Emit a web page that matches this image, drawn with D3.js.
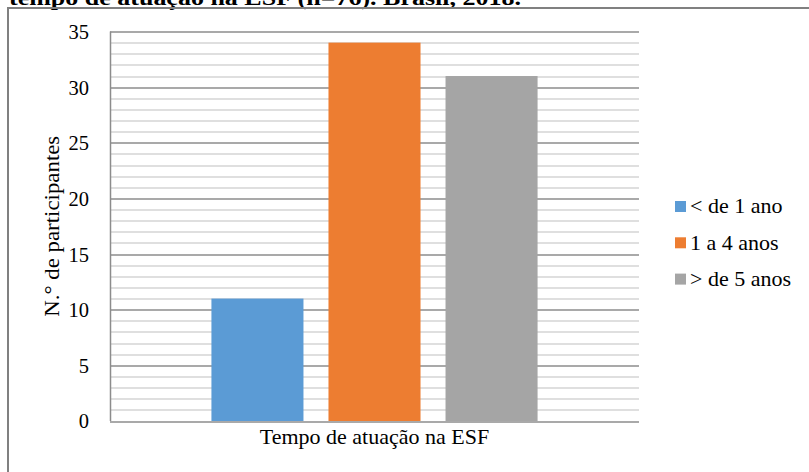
<!DOCTYPE html>
<html>
<head>
<meta charset="utf-8">
<script src="https://cdn.jsdelivr.net/npm/d3@7"></script>
<style>
  html, body { margin: 0; padding: 0; background: #fff; }
  svg { display: block; }
  svg text { font-family: "Liberation Serif", "Times New Roman", serif; fill: #000; }
</style>
</head>
<body>
<svg id="chart" width="809" height="472"></svg>
<script>
// Participants by time working in the ESF
const categories = ["Tempo de atuação na ESF"];
const seriesNames = ["< de 1 ano", "1 a 4 anos", "> de 5 anos"];
const seriesValues = [11, 34, 31];
const seriesColors = ["#5B9BD5", "#ED7D31", "#A5A5A5"];
const yTicks = [0, 5, 10, 15, 20, 25, 30, 35];
const yMinorTicks = d3.range(0, 36, 1);
const captionText = "tempo de atuação na ESF (n=76). Brasil, 2018.";
const yTitle = "N.° de participantes";

const svg = d3.select("#chart");
const margin = { top: 31.5, left: 110, right: 170, bottom: 51 };
const W = 809, H = 472;
const plotW = W - margin.left - margin.right;
const plotH = H - margin.top - margin.bottom;
const stretch = 1.1; // horizontal glyph widening used for labels

// caption line above the frame (partly outside the page)
svg.append("text")
  .attr("x", 9).attr("y", 4.5)
  .style("font-size", "22px")
  .style("font-weight", "bold")
  .attr("textLength", 512)
  .attr("lengthAdjust", "spacingAndGlyphs")
  .text(captionText);

// outer chart frame
svg.append("rect")
  .attr("x", 8).attr("y", 8)
  .attr("width", 840).attr("height", 500)
  .attr("fill", "none")
  .attr("stroke", "#808080")
  .attr("stroke-width", 2);

const g = svg.append("g").attr("transform", `translate(${margin.left},${margin.top})`);

const y = d3.scaleLinear().domain([0, 35]).range([plotH, 0]);
const x0 = d3.scaleBand().domain(categories).range([0, plotW]).paddingOuter(0.311).paddingInner(0);
const x1 = d3.scaleBand().domain(seriesNames).range([0, x0.bandwidth()]).paddingInner(0.2137).paddingOuter(0);

// minor gridlines
g.append("g").selectAll("line")
  .data(yMinorTicks.filter(v => v % 5 !== 0))
  .join("line")
  .attr("x1", 0).attr("x2", plotW)
  .attr("y1", d => Math.round(y(d)) + 0.5).attr("y2", d => Math.round(y(d)) + 0.5)
  .attr("stroke", "#d4d4d4").attr("stroke-width", 1.5);

// major gridlines
g.append("g").selectAll("line")
  .data(yTicks)
  .join("line")
  .attr("x1", 0).attr("x2", plotW)
  .attr("y1", d => Math.round(y(d)) + 0.5).attr("y2", d => Math.round(y(d)) + 0.5)
  .attr("stroke", "#8c8c8c").attr("stroke-width", 1.5);

// left axis line
g.append("line")
  .attr("x1", 0.5).attr("x2", 0.5)
  .attr("y1", y(35)).attr("y2", y(0))
  .attr("stroke", "#8c8c8c").attr("stroke-width", 1.5);

// bars
const bars = g.append("g").attr("transform", `translate(${x0(categories[0])},0)`);
bars.selectAll("rect")
  .data(seriesNames.map((s, i) => ({ s, v: seriesValues[i], c: seriesColors[i] })))
  .join("rect")
  .attr("x", d => x1(d.s))
  .attr("width", x1.bandwidth())
  .attr("y", d => y(d.v))
  .attr("height", d => y(0) - y(d.v))
  .attr("fill", d => d.c);

// y axis tick labels
const yAxis = d3.axisLeft(y).tickValues(yTicks).tickSize(0).tickPadding(21);
const ya = g.append("g").call(yAxis).attr("font-family", null).attr("font-size", null);
ya.select(".domain").remove();
ya.selectAll("text")
  .style("font-size", "20.5px")
  .attr("dy", "0.34em");

// x axis category label
const xCat = g.append("g").attr("transform", `translate(0,${plotH})`);
xCat.selectAll("g")
  .data(categories)
  .join("g")
  .attr("transform", d => `translate(${x0(d) + x0.bandwidth() / 2},23) scale(${stretch},1)`)
  .append("text")
  .attr("text-anchor", "middle")
  .style("font-size", "20px")
  .text(d => d);

// y axis title
svg.append("text")
  .attr("transform", `translate(59,${margin.top + plotH / 2}) rotate(-90)`)
  .attr("text-anchor", "middle")
  .style("font-size", "21px")
  .attr("textLength", 181)
  .attr("lengthAdjust", "spacingAndGlyphs")
  .text(yTitle);

// legend
const legend = svg.append("g").attr("transform", `translate(675,201)`);
const li = legend.selectAll("g")
  .data(seriesNames.map((s, i) => ({ s, c: seriesColors[i] })))
  .join("g")
  .attr("transform", (d, i) => `translate(0,${i * 36.3})`);
li.append("rect")
  .attr("x", 0).attr("y", 0).attr("width", 11).attr("height", 11)
  .attr("fill", d => d.c);
li.append("g")
  .attr("transform", `translate(15,12.3) scale(${stretch},1)`)
  .append("text")
  .style("font-size", "20px")
  .text(d => d.s);
</script>
</body>
</html>
